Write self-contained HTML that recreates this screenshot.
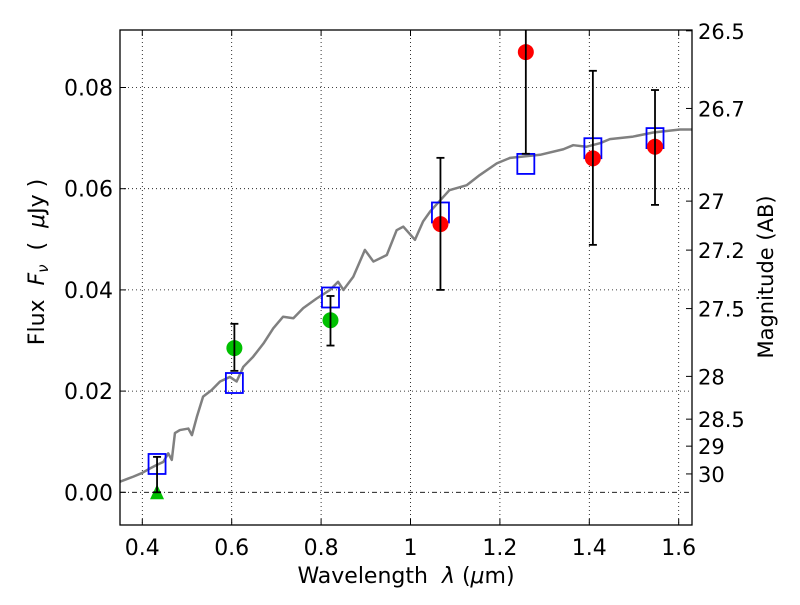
<!DOCTYPE html>
<html><head><meta charset="utf-8"><style>body{margin:0;background:#fff}svg{font-family:"DejaVu Sans","Liberation Sans",sans-serif}</style></head>
<body>
<svg id="chart" width="800" height="600" xmlns="http://www.w3.org/2000/svg">
<rect width="800" height="600" fill="#fff"/>
<g id="grid"></g>
<g id="marks"></g>
<rect x="120" y="30" width="572" height="495" fill="none" stroke="#000" stroke-width="1.3"/>
<g id="axes"></g>
<text x="406" y="583" font-size="22" text-anchor="middle" xml:space="preserve">Wavelength  <tspan font-style="italic">λ</tspan> (<tspan font-style="italic">μ</tspan>m)</text>
<text transform="translate(44,262) rotate(-90)" font-size="22" text-anchor="middle" xml:space="preserve">Flux  <tspan font-style="italic">F<tspan font-size="15" dy="4">ν</tspan></tspan><tspan dy="-4">  (  </tspan><tspan font-style="italic">μ</tspan>Jy )</text>
<text transform="translate(773,277) rotate(-90)" font-size="21" text-anchor="middle">Magnitude (AB)</text>
</svg>
<script>
const xTicks=[0.4,0.6,0.8,1.0,1.2,1.4,1.6];
const xTickLabels=["0.4","0.6","0.8","1","1.2","1.4","1.6"];
const yTicks=[0,0.02,0.04,0.06,0.08];
const yTickLabels=["0.00","0.02","0.04","0.06","0.08"];
const magTicks=[26.5,26.7,27,27.2,27.5,28,28.5,29,30];
const magTickLabels=["26.5","26.7","27","27.2","27.5","28","28.5","29","30"];
const specLam=[0.350,0.380,0.399,0.417,0.432,0.447,0.458,0.466,0.473,0.484,0.503,0.511,0.522,0.536,0.555,0.574,0.596,0.611,0.626,0.648,0.671,0.693,0.715,0.738,0.760,0.790,0.820,0.838,0.850,0.872,0.898,0.917,0.947,0.969,0.984,1.010,1.028,1.044,1.087,1.126,1.155,1.193,1.223,1.290,1.342,1.364,1.394,1.424,1.446,1.498,1.543,1.603,1.629];
const specFlux=[0.0021,0.0031,0.0038,0.0047,0.0054,0.0060,0.0077,0.0064,0.0117,0.0123,0.0126,0.0113,0.0149,0.0189,0.0202,0.0219,0.0228,0.0219,0.0248,0.0268,0.0294,0.0324,0.0347,0.0344,0.0364,0.0383,0.0400,0.0416,0.0400,0.0426,0.0479,0.0456,0.0469,0.0518,0.0525,0.0499,0.0535,0.0555,0.0597,0.0607,0.0627,0.0650,0.0661,0.0667,0.0678,0.0686,0.0683,0.0690,0.0698,0.0703,0.0711,0.0717,0.0717];
const modelLam=[0.433,0.606,0.821,1.067,1.258,1.408,1.547];
const modelFlux=[0.0056,0.0216,0.0385,0.0553,0.0649,0.068,0.070];
const greenLam=[0.606,0.821];
const greenFlux=[0.0285,0.034];
const greenLo=[0.024,0.029];
const greenHi=[0.0333,0.0388];
const redLam=[1.067,1.258,1.408,1.547];
const redFlux=[0.053,0.087,0.066,0.0683];
const redLo=[0.040,0.0669,0.0489,0.0568];
const redHi=[0.0661,0.107,0.0833,0.0795];
const limLam=[0.433];
const limFlux=[0.0];
const limLo=[0.0];
const limHi=[0.007];

const X=l=>142.3+(l-0.4)*447;
const Y=f=>492.3-f*5060;
const M=m=>Y(Math.pow(10,(23.9-m)/2.5));
const NS="http://www.w3.org/2000/svg";
function mk(p,tag,attrs){const e=document.createElementNS(NS,tag);for(const k in attrs)e.setAttribute(k,attrs[k]);p.appendChild(e);return e;}
const grid=document.getElementById('grid'),marks=document.getElementById('marks'),axes=document.getElementById('axes');
xTicks.forEach((t,i)=>{
 const g=mk(grid,'line',{x1:X(t),x2:X(t),y1:30,y2:525,stroke:'#000','stroke-dasharray':'1,3','stroke-width':0.8});
 
 
 mk(axes,'line',{x1:X(t),x2:X(t),y1:525,y2:519,stroke:'#000'});
 mk(axes,'line',{x1:X(t),x2:X(t),y1:30,y2:36,stroke:'#000'});
 const tx=mk(axes,'text',{x:X(t),y:555,'font-size':22,'text-anchor':'middle'});tx.textContent=xTickLabels[i];
 
 
});
yTicks.forEach((t,i)=>{
 const g=mk(grid,'line',{x1:120,x2:692,y1:Y(t),y2:Y(t),stroke:'#000','stroke-dasharray':t===0?'5,3,1,3':'1,3','stroke-width':0.8});
 
 
 mk(axes,'line',{x1:120,x2:126,y1:Y(t),y2:Y(t),stroke:'#000'});
 const tx=mk(axes,'text',{x:113,y:Y(t)+8,'font-size':22,'text-anchor':'end'});tx.textContent=yTickLabels[i];
 
 
});
magTicks.forEach((m,i)=>{
 mk(axes,'line',{x1:686,x2:692,y1:M(m),y2:M(m),stroke:'#000'});
 const tx=mk(axes,'text',{x:698,y:M(m)+8,'font-size':21});tx.textContent=magTickLabels[i];
 
 
});
const clip=mk(document.getElementById('chart'),'clipPath',{id:'pc'});mk(clip,'rect',{x:120,y:30,width:572,height:495});
marks.setAttribute('clip-path','url(#pc)');
const spec=mk(marks,'polyline',{points:specLam.map((l,i)=>X(l)+','+Y(specFlux[i])).join(' '),fill:'none',stroke:'#808080','stroke-width':2.5,'stroke-linejoin':'round'});


modelLam.forEach((l,i)=>{
 const r=mk(marks,'rect',{x:X(l)-8.5,y:Y(modelFlux[i])-10,width:17,height:20,fill:'none',stroke:'#0000ff','stroke-width':1.8});
 
 
});
function err(l,lo,hi){mk(marks,'line',{x1:X(l),x2:X(l),y1:Y(lo),y2:Y(hi),stroke:'#000','stroke-width':1.8});mk(marks,'line',{x1:X(l)-4,x2:X(l)+4,y1:Y(lo),y2:Y(lo),stroke:'#000','stroke-width':1.8});mk(marks,'line',{x1:X(l)-4,x2:X(l)+4,y1:Y(hi),y2:Y(hi),stroke:'#000','stroke-width':1.8});}
limLam.forEach((l,i)=>{const x=X(l),y=Y(limFlux[i]);
 const t=mk(marks,'polygon',{points:`${x},${y-8} ${x-7},${y+7} ${x+7},${y+7}`,fill:'#00c000'});
 
 
 err(l,limLo[i],limHi[i]);});
greenLam.forEach((l,i)=>{
 const c=mk(marks,'circle',{cx:X(l),cy:Y(greenFlux[i]),r:8,fill:'#00c000'});
 
 
 err(l,greenLo[i],greenHi[i]);});
redLam.forEach((l,i)=>{
 const c=mk(marks,'circle',{cx:X(l),cy:Y(redFlux[i]),r:8,fill:'#ff0000'});
 
 
 err(l,redLo[i],redHi[i]);});
</script>
</body></html>
